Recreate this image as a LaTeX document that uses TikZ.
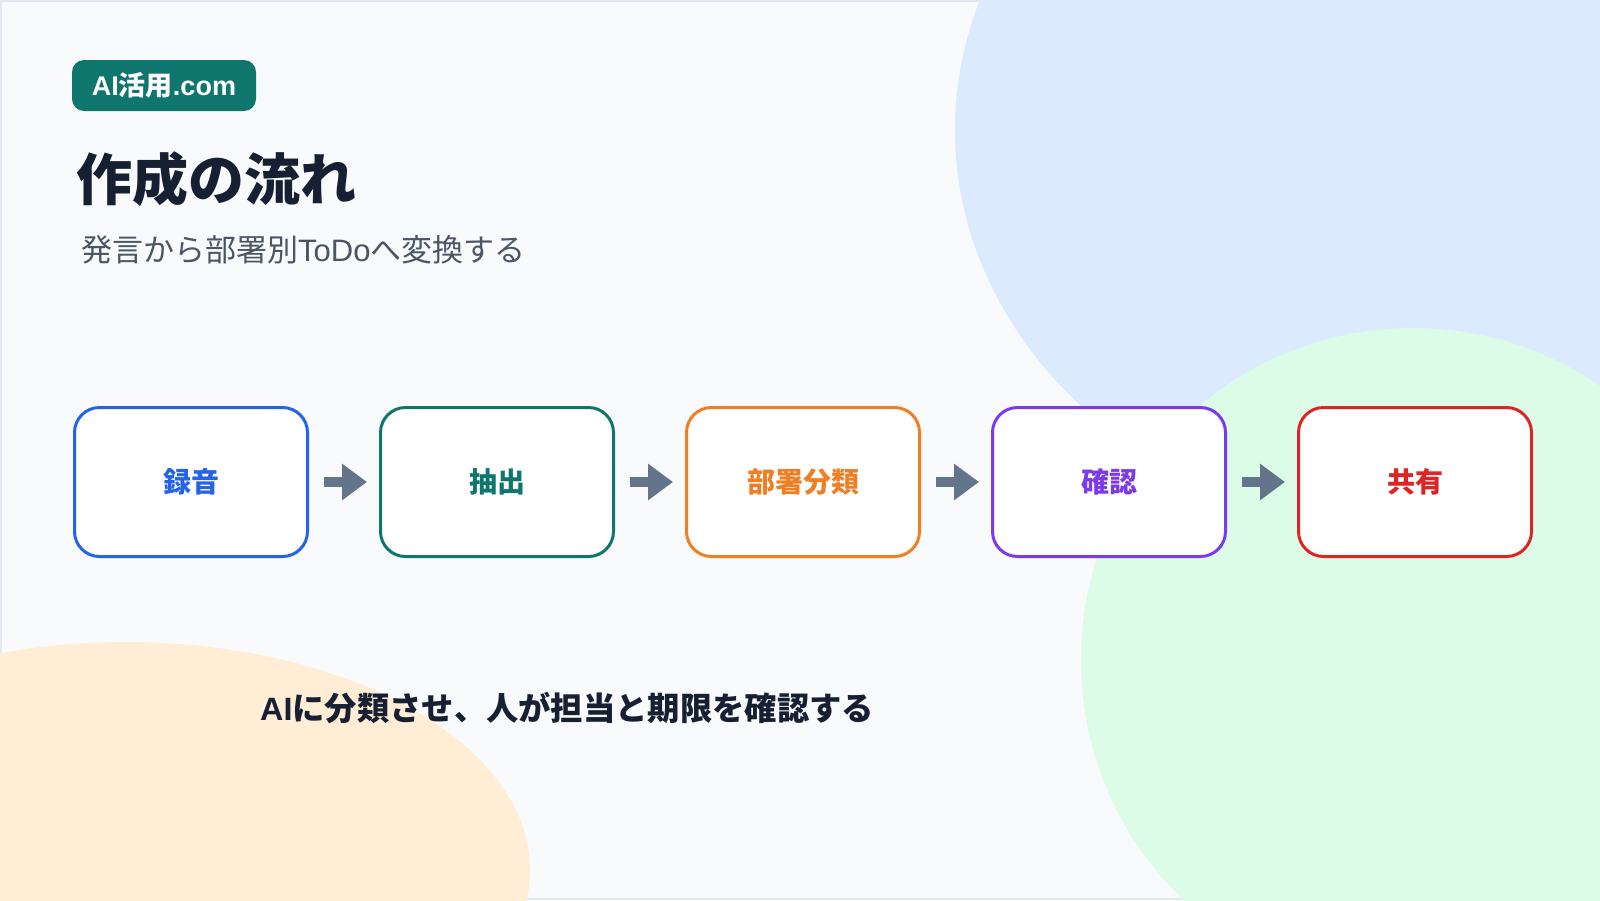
\documentclass[tikz,border=0pt]{standalone}
\usepackage{fontspec}
\setmainfont{Noto Sans CJK JP}
\newfontfamily\latinfont{Liberation Sans}
\usetikzlibrary{arrows.meta,calc}
\definecolor{bg}{HTML}{F8FAFC}
\definecolor{framegray}{HTML}{E2E8F0}
\definecolor{blueblob}{HTML}{DBEAFE}
\definecolor{greenblob}{HTML}{DCFCE7}
\definecolor{orangeblob}{HTML}{FFEDD5}
\definecolor{badgeteal}{HTML}{0F766E}
\definecolor{titleink}{HTML}{172033}
\definecolor{subink}{HTML}{4B5563}
\definecolor{arrowgray}{HTML}{64748B}
\definecolor{cblue}{HTML}{2563EB}
\definecolor{cteal}{HTML}{0F766E}
\definecolor{corange}{HTML}{F07F24}
\definecolor{cpurple}{HTML}{7C3AED}
\definecolor{cred}{HTML}{DC2626}
\tikzset{
  stepbox/.style={draw, fill=white, line width=3pt, rounded corners=25pt,
    minimum width=233pt, minimum height=149pt, inner sep=0pt,
    font=\fontsize{28}{34}\selectfont\bfseries},
  flowarrow/.style={draw=arrowgray, line width=10pt,
    -{Triangle[length=25pt,width=35pt]}},
}
\begin{document}
\begin{tikzpicture}[x=1pt,y=-1pt]
\useasboundingbox (0,0) rectangle (1600,900);
\begin{scope}
\clip (0,0) rectangle (1600,900);
\fill[bg] (0,0) rectangle (1600,900);
\draw[framegray, line width=2pt] (1,1) rectangle (1599,899);
\fill[blueblob] (1455,130) ellipse [x radius=500, y radius=416];
\fill[greenblob] (1413,660) circle [radius=332];
\fill[orangeblob] (126,870) ellipse [x radius=404, y radius=228];
\end{scope}

\node[fill=badgeteal, rounded corners=12pt, minimum width=184pt, minimum height=51pt,
  inner sep=0pt, text=white, font=\fontsize{27}{32}\selectfont\bfseries]
  (badge) at (164,85.5) {{\latinfont AI}活用{\latinfont .com}};

\node[anchor=west, inner sep=0pt, text=titleink, font=\fontsize{56}{64}\selectfont\bfseries]
  (title) at (76,179) {作成の流れ};

\node[anchor=west, inner sep=0pt, text=subink, font=\fontsize{31}{36}\selectfont]
  (subtitle) at (81,250) {発言から部署別{\latinfont ToDo}へ変換する};

\node[stepbox, draw=cblue, text=cblue] (s1) at (191,482) {録音};
\node[stepbox, draw=cteal, text=cteal] (s2) at (497,482) {抽出};
\node[stepbox, draw=corange, text=corange] (s3) at (803,482) {部署分類};
\node[stepbox, draw=cpurple, text=cpurple] (s4) at (1109,482) {確認};
\node[stepbox, draw=cred, text=cred] (s5) at (1415,482) {共有};

\draw[flowarrow] ($(s1.east)+(15,0)$) -- ($(s2.west)+(-12,0)$);
\draw[flowarrow] ($(s2.east)+(15,0)$) -- ($(s3.west)+(-12,0)$);
\draw[flowarrow] ($(s3.east)+(15,0)$) -- ($(s4.west)+(-12,0)$);
\draw[flowarrow] ($(s4.east)+(15,0)$) -- ($(s5.west)+(-12,0)$);

\node[anchor=west, inner sep=0pt, text=titleink, font=\fontsize{32.3}{38}\selectfont\bfseries]
  (note) at (260,708) {{\latinfont AI}に分類させ、人が担当と期限を確認する};
\end{tikzpicture}
\end{document}
